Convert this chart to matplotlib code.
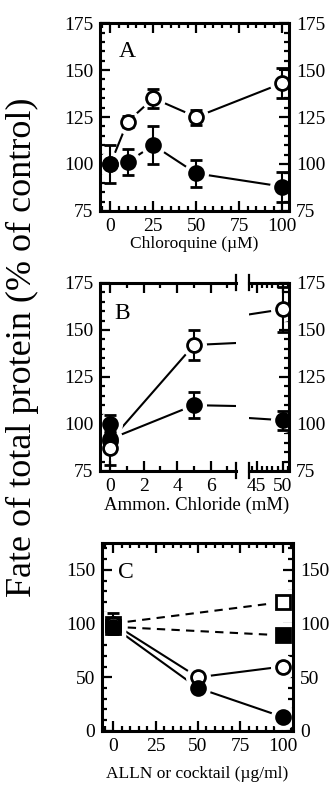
import numpy as np
import matplotlib.pyplot as plt
from matplotlib.ticker import MultipleLocator

plt.rcParams['font.family'] = ['Liberation Serif', 'DejaVu Serif']
plt.rcParams['mathtext.fontset'] = 'stix'

# Panel A - chloroquine
a_x = [0, 10, 25, 50, 100]
a_open = [100, 122.5, 135, 125, 143]
a_open_err = [0, 3, 5, 4, 8]
a_filled = [100, 101, 110, 95, 88]
a_filled_err = [10, 7, 10, 7, 8]

# Panel B - ammonium chloride
b_x = [0, 5, 50]
b_open = [91, 142, 161]
b_open_err = [0, 8, 12]
b_filled = [92, 110, 102]
b_filled_err = [0, 7, 5]
b_ctrl_open = (0, 87, 9)
b_ctrl_filled = (0, 100, 5)

# Panel C - ALLN or cocktail
c_x = [0, 50, 100]
c_open = [100, 50, 60]
c_filled = [97, 40, 13]
c_sq_x = [0, 100]
c_sq_open = [100, 120]
c_sq_open_err = [10, 0]
c_sq_filled = [97, 89]

fig = plt.figure(figsize=(3.36, 7.86), dpi=100)

LW = 2.2
MS = 10


def style(ax, xmaj, xmin, ymaj, ymin, left=True, right=True):
    ax.xaxis.set_major_locator(MultipleLocator(xmaj))
    ax.xaxis.set_minor_locator(MultipleLocator(xmin))
    ax.yaxis.set_major_locator(MultipleLocator(ymaj))
    ax.yaxis.set_minor_locator(MultipleLocator(ymin))
    ax.tick_params(which='both', direction='in', top=True, left=left, right=right,
                   labelleft=left, labelright=right, labelsize=14, width=1.6, pad=5)
    ax.tick_params(which='major', length=7)
    ax.tick_params(which='minor', length=3.5)
    for s in ax.spines.values():
        s.set_linewidth(LW)


def series(ax, x, y, err, open_, marker='o', ls='-'):
    ax.plot(x, y, color='black', lw=1.5, ls=ls, dashes=(4, 3) if ls == '--' else (None, None), zorder=1)
    ax.plot(x, y, ls='none', marker=marker, ms=MS + 7, mfc='white', mec='white', zorder=2)
    fc = 'white' if open_ else 'black'
    ax.errorbar(x, y, yerr=err, fmt=marker, ms=MS, mfc=fc, mec='black', mew=2,
                ecolor='black', elinewidth=1.5, capsize=4, capthick=1.5, zorder=3)


# Panel A
axA = fig.add_axes([0.298, 0.7316, 0.562, 0.239])
series(axA, a_x, a_open, a_open_err, True)
series(axA, a_x, a_filled, a_filled_err, False)
axA.set_xlim(-6, 104)
axA.set_ylim(75, 175)
style(axA, 25, 5, 25, 5)
axA.text(5, 157, 'A', fontsize=17)
axA.set_xlabel('Chloroquine (µM)', fontsize=12.5, labelpad=1)

# Panel B (broken x axis)
axB1 = fig.add_axes([0.298, 0.4008, 0.404, 0.2392])
axB2 = fig.add_axes([0.741, 0.4008, 0.119, 0.2392])
for ax in (axB1, axB2):
    series(ax, b_x, b_open, b_open_err, True)
    series(ax, b_x, b_filled, b_filled_err, False)
    ax.set_ylim(75, 175)
for ctrl, op in ((b_ctrl_open, True), (b_ctrl_filled, False)):
    series(axB1, [ctrl[0]], [ctrl[1]], [ctrl[2]], op)
axB1.set_xlim(-0.6, 7.5)
axB2.set_xlim(43.5, 51.2)
style(axB1, 2, 1, 25, 5, left=True, right=False)
style(axB2, 5, 1, 25, 5, left=False, right=True)
axB1.spines['right'].set_visible(False)
axB2.spines['left'].set_visible(False)
axB2.set_xticks([45, 50])
axB1.text(0.25, 156, 'B', fontsize=17)
for ax, xb in ((axB1, 1), (axB2, 0)):
    for yb in (0, 1):
        ax.plot([xb, xb], [yb - 0.04, yb + 0.04], transform=ax.transAxes,
                color='black', lw=1.6, clip_on=False)
fig.text(0.585, 0.3565, 'Ammon. Chloride (mM)', fontsize=13.5, ha='center', va='center')

# Panel C
axC = fig.add_axes([0.304, 0.0700, 0.568, 0.2392])
series(axC, c_sq_x, c_sq_open, c_sq_open_err, True, marker='s', ls='--')
series(axC, c_sq_x, c_sq_filled, [0, 0], False, marker='s', ls='--')
series(axC, c_x, c_open, [0, 0, 0], True)
series(axC, c_x, c_filled, [0, 0, 0], False)
axC.set_xlim(-6.5, 106)
axC.set_ylim(0, 175)
style(axC, 25, 5, 50, 10)
axC.text(3, 142, 'C', fontsize=17)
axC.set_xlabel('ALLN or cocktail (µg/ml)', fontsize=12.5, labelpad=8)

fig.text(0.068, 0.558, 'Fate of total protein (% of control)', rotation=90,
         fontsize=26, ha='center', va='center')

fig.savefig('out.png', dpi=100)
